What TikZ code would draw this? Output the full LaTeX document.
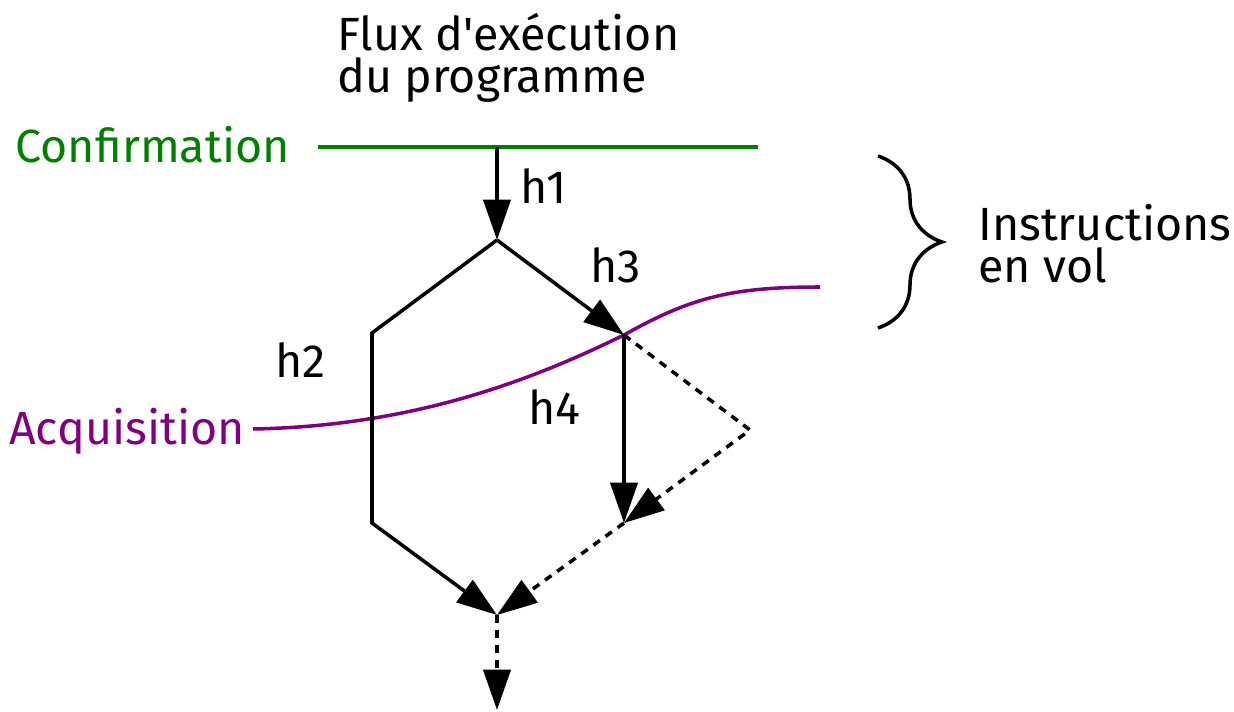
\documentclass[tikz,border=0pt]{standalone}
\usepackage{fontspec}
\setmainfont{Fira Sans}
\usetikzlibrary{arrows.meta,decorations.pathreplacing}
\definecolor{vert}{RGB}{0,128,0}
\definecolor{violet}{RGB}{128,0,128}
\tikzset{
  flux/.style={line width=2pt},
  pointille/.style={flux,dash pattern=on 4.5pt off 4pt},
  fleche/.style={-{Triangle[length=23pt,width=15.5pt]}},
  etiquette/.style={inner sep=0pt,font=\fontsize{26.5}{23.8}\selectfont,align=left}
}
\begin{document}
\begin{tikzpicture}[x=0.02cm,y=-0.02cm]
\useasboundingbox (0,0) rectangle (1234,712);
\coordinate (confA) at (318,147);
\coordinate (confB) at (758,147);
\coordinate (depart) at (497,147);
\coordinate (sommet) at (497,240);
\coordinate (gaucheH) at (372,333);
\coordinate (gaucheB) at (372,523);
\coordinate (croise) at (624,335);
\coordinate (coin) at (750,430);
\coordinate (milieu) at (624,523);
\coordinate (jonction) at (497,615);
\coordinate (fin) at (497,710);
\coordinate (acqA) at (253,429);
\coordinate (acqB) at (820,287);
\coordinate (braceH) at (878,156);
\coordinate (braceB) at (878,328);

\node[etiquette,anchor=north west] (titre) at (337,13) {Flux d\textquotesingle exécution\\du programme};
\node[etiquette,anchor=base east,text=vert] (confirmation) at (290,163) {Confirmation};
\node[etiquette,anchor=base east,text=violet] (acquisition) at (245,445) {Acquisition};
\node[etiquette,anchor=base west] (h1) at (520,204) {h1};
\node[etiquette,anchor=base west] (h2) at (275,378) {h2};
\node[etiquette,anchor=base west] (h3) at (590,283) {h3};
\node[etiquette,anchor=base west] (h4) at (528,425) {h4};
\node[etiquette,anchor=north west] (vol) at (978,204) {Instructions\\en vol};

\draw[flux,vert] (confA) -- (confB);
\draw[flux,violet] (acqA) .. controls (420,426) and (540,376) .. (croise)
  .. controls (690,298) and (730,287) .. (acqB);
\draw[flux,fleche] (depart) -- (sommet);
\draw[flux,fleche] (sommet) -- (croise);
\draw[flux,fleche] (sommet) -- (gaucheH) -- (gaucheB) -- (jonction);
\draw[flux,fleche] (croise) -- (milieu);
\draw[pointille,fleche] (croise) -- (coin) -- (milieu);
\draw[pointille,fleche] (milieu) -- (jonction);
\draw[pointille,fleche] (jonction) -- (fin);
\draw[flux,decorate,decoration={brace,amplitude=1.28cm}] (braceH) -- (braceB);
\end{tikzpicture}
\end{document}
